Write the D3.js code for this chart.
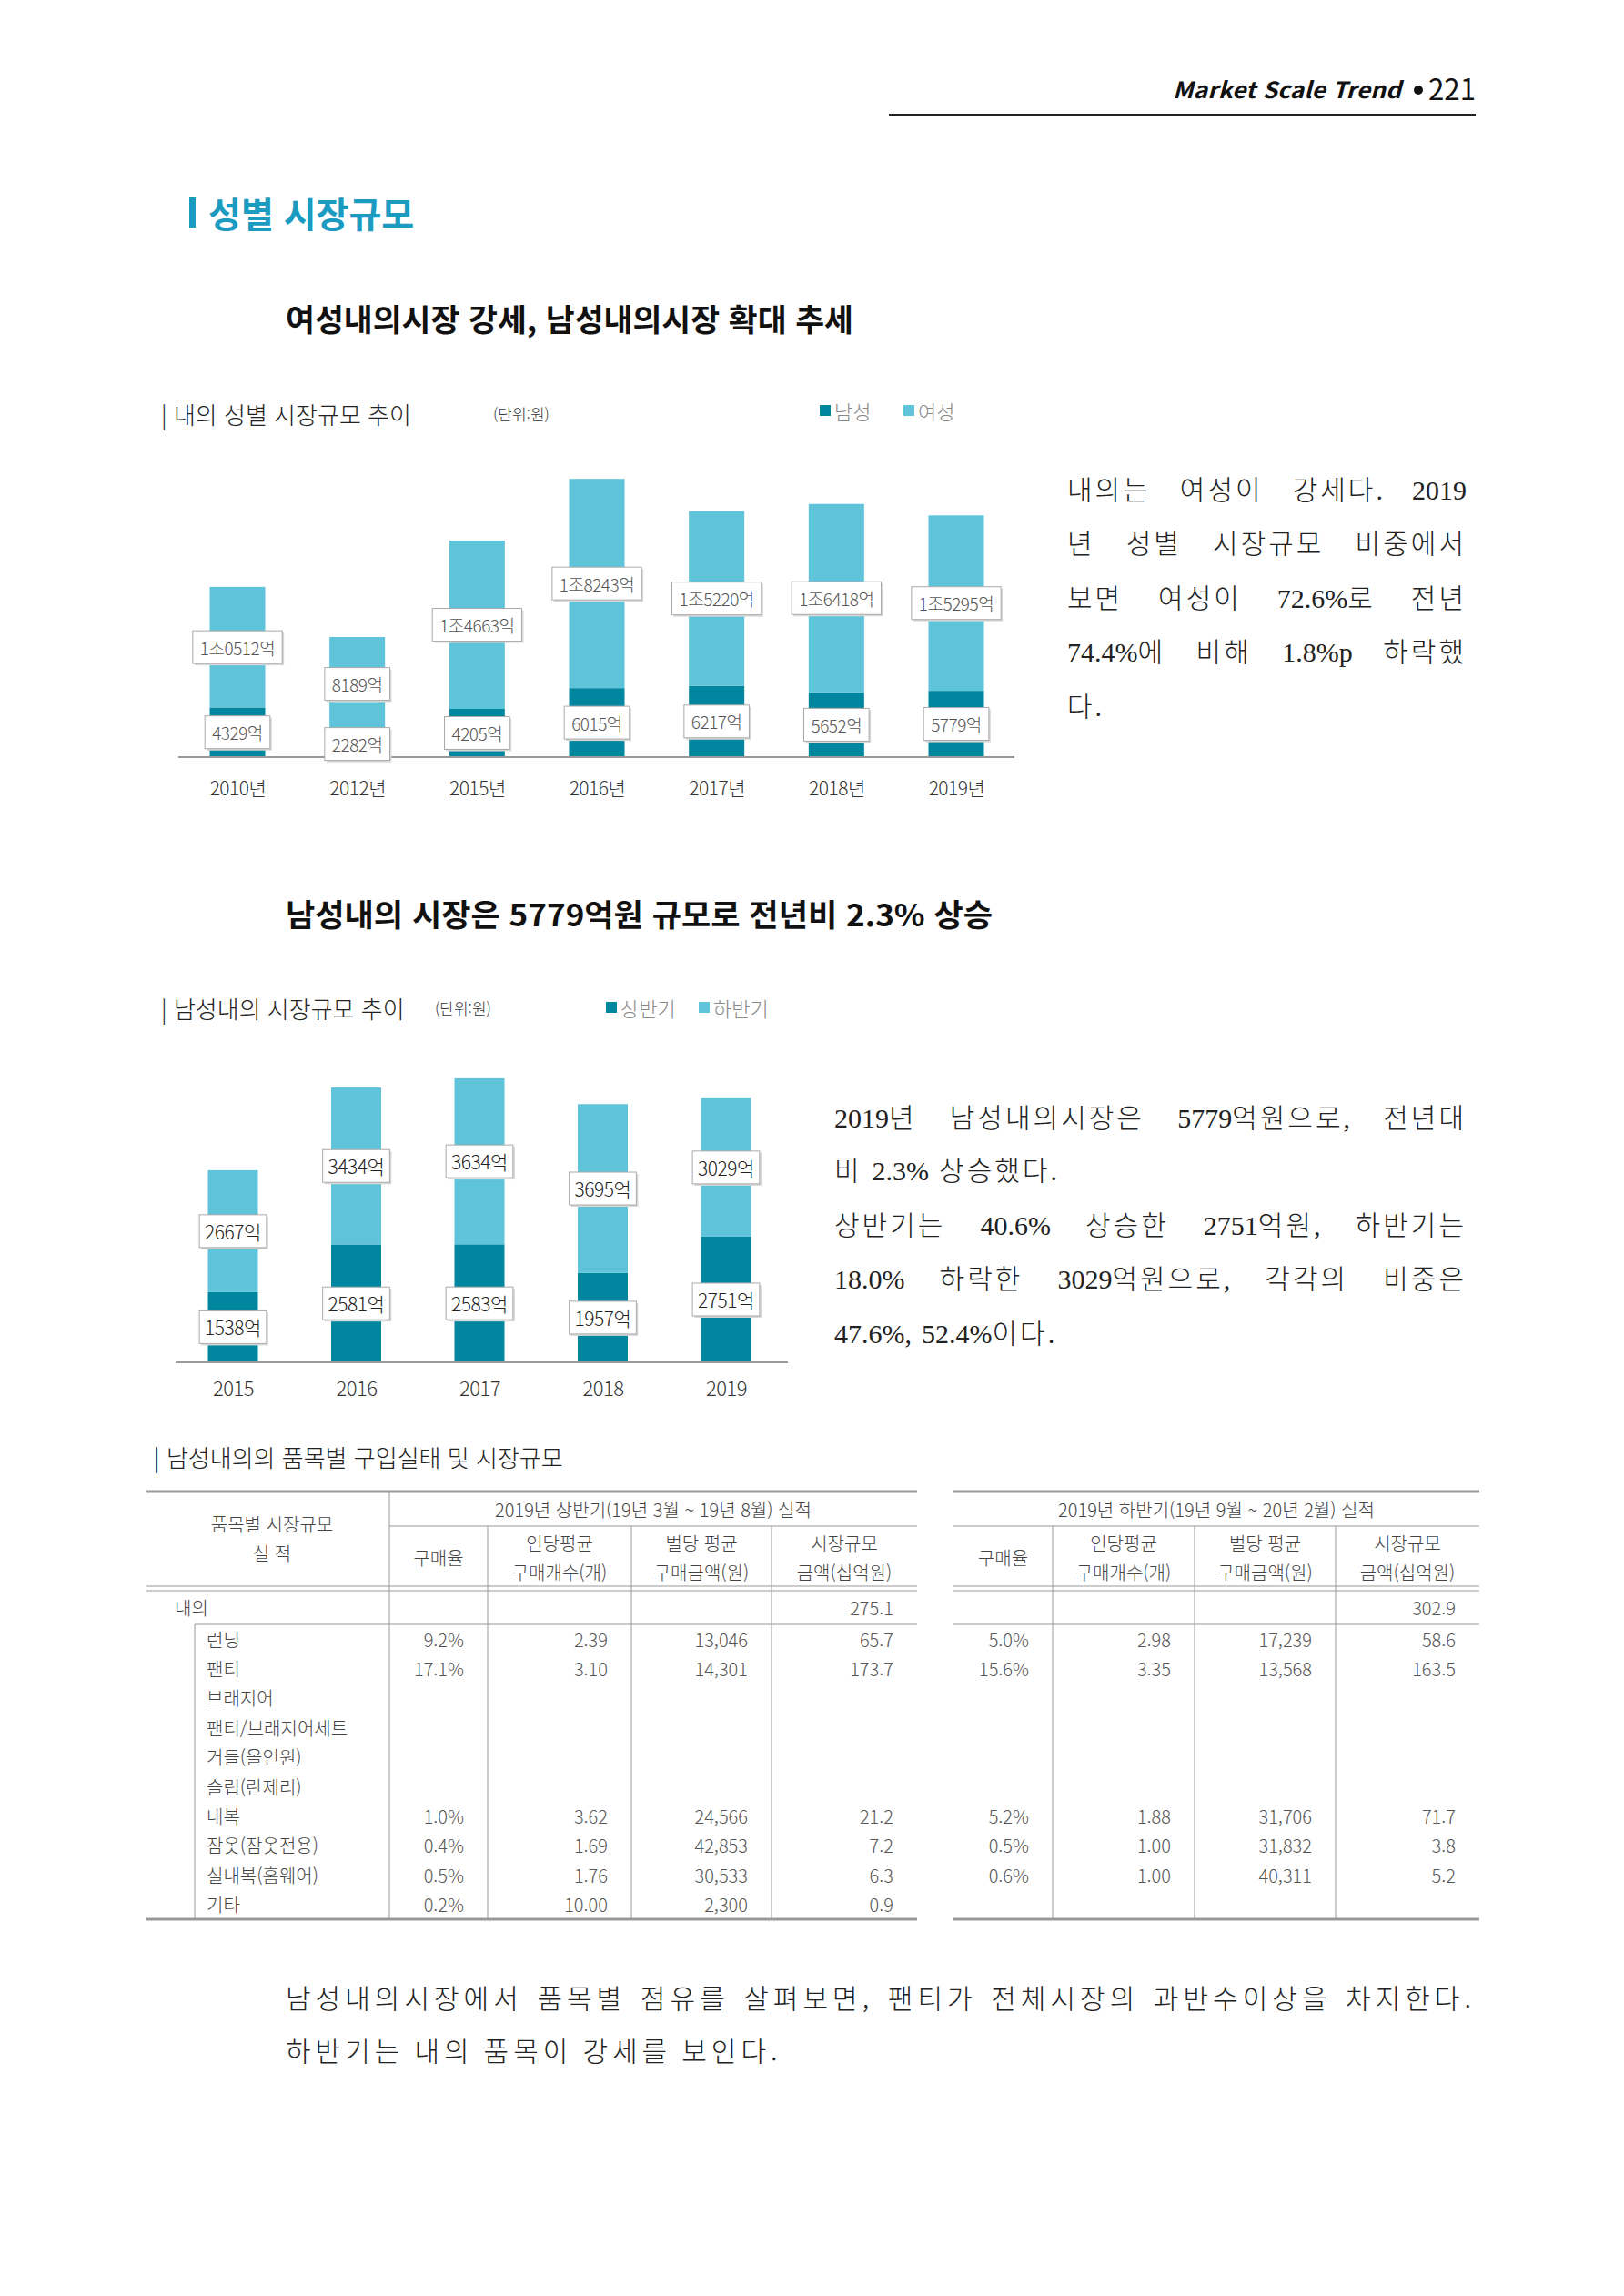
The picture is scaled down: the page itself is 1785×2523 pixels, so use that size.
<!DOCTYPE html>
<html lang="ko">
<head>
<meta charset="utf-8">
<title>성별 시장규모</title>
<script src="https://d3js.org/d3.v7.min.js"></script>
<style>
  body { margin: 0; background: #fff; }
  text { font-family: "Noto Sans CJK KR", "Noto Sans", sans-serif; }
  .para { font-family: "Liberation Serif", "Noto Sans CJK KR", serif; font-size: 30px; fill: #222; font-weight: 300; }
  .para2 { font-size: 30px; fill: #222; font-weight: 300; letter-spacing: 5px; }
  .tbl { font-size: 20px; fill: #444; font-weight: 300; }
  .val { font-size: 20px; fill: #555; font-weight: 300; }
</style>
</head>
<body>
<div id="page"></div>
<script>
// chart 1: 내의 성별 시장규모 (억원)
var years1 = ["2010년", "2012년", "2015년", "2016년", "2017년", "2018년", "2019년"];
var male1 = [4329, 2282, 4205, 6015, 6217, 5652, 5779];
var female1 = [10512, 8189, 14663, 18243, 15220, 16418, 15295];

// chart 2: 남성내의 시장규모 (억원)
var years2 = ["2015", "2016", "2017", "2018", "2019"];
var firstHalf = [1538, 2581, 2583, 1957, 2751];
var secondHalf = [2667, 3434, 3634, 3695, 3029];

// table
var items = ["런닝", "팬티", "브래지어", "팬티/브래지어세트", "거들(올인원)", "슬립(란제리)", "내복", "잠옷(잠옷전용)", "실내복(홈웨어)", "기타"];
var h1Rate = [9.2, 17.1, null, null, null, null, 1.0, 0.4, 0.5, 0.2];
var h1Qty = [2.39, 3.10, null, null, null, null, 3.62, 1.69, 1.76, 10.00];
var h1Price = [13046, 14301, null, null, null, null, 24566, 42853, 30533, 2300];
var h1Size = [65.7, 173.7, null, null, null, null, 21.2, 7.2, 6.3, 0.9];
var h2Rate = [5.0, 15.6, null, null, null, null, 5.2, 0.5, 0.6, null];
var h2Qty = [2.98, 3.35, null, null, null, null, 1.88, 1.00, 1.00, null];
var h2Price = [17239, 13568, null, null, null, null, 31706, 31832, 40311, null];
var h2Size = [58.6, 163.5, null, null, null, null, 71.7, 3.8, 5.2, null];
var totalSize = [275.1, 302.9];

var dark = "#00869f", light = "#5fc4da", blue = "#1c9bc1";

var svg = d3.select("#page").append("svg")
  .attr("width", 1785).attr("height", 2523);
svg.append("rect").attr("width", 1785).attr("height", 2523).attr("fill", "#fff");

// running header
svg.append("text").attr("x", 1289).attr("y", 108)
  .attr("font-family", "DejaVu Sans").attr("font-style", "italic").attr("font-weight", 700)
  .attr("font-size", 25).attr("fill", "#111")
  .attr("textLength", 251).attr("lengthAdjust", "spacingAndGlyphs")
  .text("Market Scale Trend");
svg.append("circle").attr("cx", 1559).attr("cy", 99).attr("r", 5).attr("fill", "#111");
svg.append("text").attr("x", 1570).attr("y", 110)
  .attr("font-family", "DejaVu Sans").attr("font-size", 32).attr("fill", "#111")
  .attr("textLength", 52).attr("lengthAdjust", "spacingAndGlyphs")
  .text("221");
svg.append("line").attr("x1", 977).attr("x2", 1622).attr("y1", 126).attr("y2", 126)
  .attr("stroke", "#222").attr("stroke-width", 2);

// section title
svg.append("rect").attr("x", 208).attr("y", 217).attr("width", 7).attr("height", 33).attr("fill", blue);
svg.append("text").attr("x", 229).attr("y", 233).attr("dominant-baseline", "central")
  .attr("font-size", 39).attr("font-weight", 600).attr("fill", blue).text("성별 시장규모");

function headline(txt, y, x0, x1) {
  svg.append("text").attr("x", x0).attr("y", y).attr("dominant-baseline", "central")
    .attr("font-size", 34).attr("font-weight", 700).attr("fill", "#111")
    .attr("textLength", x1 - x0).attr("lengthAdjust", "spacingAndGlyphs")
    .text(txt);
}
headline("여성내의시장 강세, 남성내의시장 확대 추세", 349, 314, 938);
headline("남성내의 시장은 5779억원 규모로 전년비 2.3% 상승", 1003, 314, 1091);

// Hangul runs get extra spacing, digits/latin stay tight
function fillWord(t, w, cls) {
  if (cls !== "para") { t.text(w); return; }
  var runs = w.match(/[\uac00-\ud7a3]+|[^\uac00-\ud7a3]+/g);
  runs.forEach(function (r) {
    var hangul = /[\uac00-\ud7a3]/.test(r);
    t.append("tspan").attr("letter-spacing", hangul ? 3 : 0).text(r);
  });
}
function lineOfWords(words, x0, x1, y, cls, justified) {
  var g = svg.append("g");
  var nodes = words.map(function (w) {
    var t = g.append("text").attr("class", cls).attr("y", y)
      .attr("dominant-baseline", "central");
    fillWord(t, w, cls);
    return t;
  });
  var widths = nodes.map(function (n) { return n.node().getComputedTextLength(); });
  var gap = (justified && words.length > 1) ? (x1 - x0 - d3.sum(widths)) / (words.length - 1) : 11;
  var x = x0;
  nodes.forEach(function (n, i) { n.attr("x", x); x += widths[i] + gap; });
}

// chart captions
function caption(txt, x, y) {
  svg.append("text").attr("x", x).attr("y", y).attr("dominant-baseline", "central")
    .attr("font-size", 26).attr("fill", "#222").attr("font-weight", 300).text(txt);
}
function unit(x, y) {
  svg.append("text").attr("x", x).attr("y", y).attr("dominant-baseline", "central")
    .attr("font-size", 17).attr("fill", "#333").attr("font-weight", 300).text("(단위:원)");
}
function legendItem(x, y, color, txt) {
  svg.append("rect").attr("x", x).attr("y", y - 6).attr("width", 12).attr("height", 12).attr("fill", color);
  svg.append("text").attr("x", x + 16).attr("y", y).attr("dominant-baseline", "central")
    .attr("font-size", 22).attr("fill", "#888").attr("font-weight", 300).text(txt);
}

function valueBox(g, cx, cy, label, size, color, pad) {
  var t = g.append("text").attr("x", cx).attr("y", cy).attr("text-anchor", "middle")
    .attr("dominant-baseline", "central").attr("font-size", size).attr("font-weight", 300)
    .attr("fill", color).attr("letter-spacing", -0.5).text(label);
  var w = t.node().getComputedTextLength() + pad * 2, h = 36;
  g.insert("rect", function () { return t.node(); })
    .attr("x", cx - w / 2 + 2).attr("y", cy - h / 2 + 2).attr("width", w).attr("height", h)
    .attr("fill", "#d8d8d8");
  g.insert("rect", function () { return t.node(); })
    .attr("x", cx - w / 2).attr("y", cy - h / 2).attr("width", w).attr("height", h)
    .attr("fill", "#fff").attr("stroke", "#aaa").attr("stroke-width", 1);
}

function fmtEok(v) {
  if (v >= 10000) return Math.floor(v / 10000) + "조" + d3.format("04d")(v % 10000) + "억";
  return v + "억";
}

// ---------- chart 1 ----------
caption("| 내의 성별 시장규모 추이", 177, 454);
unit(542, 454);
legendItem(901, 451, dark, "남성");
legendItem(993, 451, light, "여성");

var x1 = d3.scalePoint().domain(years1).range([261, 1051]);
var y1 = d3.scaleLinear().domain([0, 25000]).range([832, 832 - 315.2]);
var bw1 = 61;
var c1 = svg.append("g");
c1.selectAll(".m").data(years1).enter().append("rect")
  .attr("x", function (d) { return x1(d) - bw1 / 2; })
  .attr("y", function (d, i) { return y1(male1[i]); })
  .attr("width", bw1)
  .attr("height", function (d, i) { return y1(0) - y1(male1[i]); })
  .attr("fill", dark);
c1.selectAll(".f").data(years1).enter().append("rect")
  .attr("x", function (d) { return x1(d) - bw1 / 2; })
  .attr("y", function (d, i) { return y1(male1[i] + female1[i]); })
  .attr("width", bw1)
  .attr("height", function (d, i) { return y1(male1[i]) - y1(male1[i] + female1[i]); })
  .attr("fill", light);
var ax1 = svg.append("g").attr("transform", "translate(0,832)")
  .call(d3.axisBottom(x1).tickSize(0).tickPadding(27));
ax1.select(".domain").attr("d", "M196,0H1115").attr("stroke", "#999").attr("stroke-width", 2);
ax1.selectAll("text").attr("font-size", 21).attr("fill", "#333").attr("font-weight", 300)
  .attr("font-family", "Noto Sans CJK KR").attr("letter-spacing", -0.5);
years1.forEach(function (d, i) {
  var g = svg.append("g");
  valueBox(g, x1(d), (y1(0) + y1(male1[i])) / 2, fmtEok(male1[i]), 19, "#555", 8);
  var g2 = svg.append("g");
  valueBox(g2, x1(d), (y1(male1[i]) + y1(male1[i] + female1[i])) / 2, fmtEok(female1[i]), 19, "#555", 8);
});

// paragraph 1
var p1 = [
  ["내의는", "여성이", "강세다.", "2019"],
  ["년", "성별", "시장규모", "비중에서"],
  ["보면", "여성이", "72.6%로", "전년"],
  ["74.4%에", "비해", "1.8%p", "하락했"],
  ["다."]
];
var p1y = [538, 597, 657, 716, 776];
p1.forEach(function (w, i) { lineOfWords(w, 1173, 1612, p1y[i], "para", i < 4); });

// ---------- chart 2 ----------
caption("| 남성내의 시장규모 추이", 177, 1107);
unit(478, 1107);
legendItem(666, 1107, dark, "상반기");
legendItem(768, 1107, light, "하반기");

var x2 = d3.scalePoint().domain(years2).range([256, 798]);
var y2 = d3.scaleLinear().domain([0, 6500]).range([1497, 1497 - 326.3]);
var bw2 = 55;
var c2 = svg.append("g");
c2.selectAll(".a").data(years2).enter().append("rect")
  .attr("x", function (d) { return x2(d) - bw2 / 2; })
  .attr("y", function (d, i) { return y2(firstHalf[i]); })
  .attr("width", bw2)
  .attr("height", function (d, i) { return y2(0) - y2(firstHalf[i]); })
  .attr("fill", dark);
c2.selectAll(".b").data(years2).enter().append("rect")
  .attr("x", function (d) { return x2(d) - bw2 / 2; })
  .attr("y", function (d, i) { return y2(firstHalf[i] + secondHalf[i]); })
  .attr("width", bw2)
  .attr("height", function (d, i) { return y2(firstHalf[i]) - y2(firstHalf[i] + secondHalf[i]); })
  .attr("fill", light);
var ax2 = svg.append("g").attr("transform", "translate(0,1497)")
  .call(d3.axisBottom(x2).tickSize(0).tickPadding(21));
ax2.select(".domain").attr("d", "M193,0H866").attr("stroke", "#999").attr("stroke-width", 2);
ax2.selectAll("text").attr("font-size", 22).attr("fill", "#333").attr("font-weight", 300)
  .attr("font-family", "Noto Sans CJK KR").attr("letter-spacing", -0.5);
years2.forEach(function (d, i) {
  valueBox(svg.append("g"), x2(d), (y2(0) + y2(firstHalf[i])) / 2, fmtEok(firstHalf[i]), 21, "#222", 6);
  valueBox(svg.append("g"), x2(d), (y2(firstHalf[i]) + y2(firstHalf[i] + secondHalf[i])) / 2, fmtEok(secondHalf[i]), 21, "#222", 6);
});

// paragraph 2
var p2 = [
  [["2019년", "남성내의시장은", "5779억원으로,", "전년대"], true],
  [["비", "2.3%", "상승했다."], false],
  [["상반기는", "40.6%", "상승한", "2751억원,", "하반기는"], true],
  [["18.0%", "하락한", "3029억원으로,", "각각의", "비중은"], true],
  [["47.6%,", "52.4%이다."], false]
];
var p2y = [1228, 1286, 1346, 1405, 1465];
p2.forEach(function (l, i) { lineOfWords(l[0], 917, 1612, p2y[i], "para", l[1]); });

// ---------- table ----------
caption("| 남성내의의 품목별 구입실태 및 시장규모", 169, 1600);

var tb = svg.append("g");
function hline(xa, xb, y, w, c) {
  tb.append("line").attr("x1", xa).attr("x2", xb).attr("y1", y).attr("y2", y)
    .attr("stroke", c || "#999").attr("stroke-width", w || 1);
}
function vline(x, ya, yb) {
  tb.append("line").attr("x1", x).attr("x2", x).attr("y1", ya).attr("y2", yb)
    .attr("stroke", "#999").attr("stroke-width", 1);
}
function ttext(txt, x, y, anchor, cls) {
  tb.append("text").attr("class", cls || "tbl").attr("x", x).attr("y", y)
    .attr("text-anchor", anchor || "middle").attr("dominant-baseline", "central").text(txt);
}

var tables = [
  { x0: 161, x1: 1008, cols: [428, 536, 694, 848, 1008], title: "2019년 상반기(19년 3월 ~ 19년 8월) 실적",
    data: [h1Rate, h1Qty, h1Price, h1Size], total: totalSize[0] },
  { x0: 1048, x1: 1626, cols: [1048, 1157, 1313, 1468, 1626], title: "2019년 하반기(19년 9월 ~ 20년 2월) 실적",
    data: [h2Rate, h2Qty, h2Price, h2Size], total: totalSize[1] }
];
var fmts = [
  function (v) { return d3.format(".1f")(v) + "%"; },
  d3.format(".2f"),
  d3.format(","),
  d3.format(".1f")
];
var rowY = d3.range(items.length).map(function (i) { return 1801 + i * 32.4; });
var subHeads = [["구매율"], ["인당평균", "구매개수(개)"], ["벌당 평균", "구매금액(원)"], ["시장규모", "금액(십억원)"]];

tables.forEach(function (t, ti) {
  hline(t.x0, t.x1, 1639, 3, "#999");
  hline(t.cols[0], t.x1, 1677, 1);
  hline(t.x0, t.x1, 1743, 1);
  hline(t.x0, t.x1, 1748, 1);
  hline(ti === 0 ? 214 : t.x0, t.x1, 1785, 1);
  hline(t.x0, t.x1, 2109, 3, "#999");
  if (ti === 0) {
    vline(428, 1639, 2109);
    vline(214, 1785, 2109);
  }
  for (var c = 1; c < 4; c++) vline(t.cols[c], 1677, 2109);
  ttext(t.title, (t.cols[0] + t.x1) / 2, 1658);
  subHeads.forEach(function (h, k) {
    var cx = (t.cols[k] + t.cols[k + 1]) / 2;
    if (h.length === 1) ttext(h[0], cx, 1711);
    else { ttext(h[0], cx, 1695); ttext(h[1], cx, 1727); }
  });
  ttext(d3.format(".1f")(t.total), t.cols[4] - 26, 1766, "end", "val");
  t.data.forEach(function (arr, k) {
    arr.forEach(function (v, r) {
      if (v === null) return;
      ttext(fmts[k](v), t.cols[k + 1] - 26, rowY[r], "end", "val");
    });
  });
});
ttext("품목별 시장규모", 299, 1674);
ttext("실 적", 299, 1706);
ttext("내의", 192, 1766, "start");
items.forEach(function (name, r) { ttext(name, 227, rowY[r], "start"); });

// closing paragraph
lineOfWords(["남성내의시장에서", "품목별", "점유를", "살펴보면,", "팬티가", "전체시장의", "과반수이상을", "차지한다."],
  314, 1622, 2194, "para2", true);
lineOfWords(["하반기는", "내의", "품목이", "강세를", "보인다."], 314, 1622, 2252, "para2", false);
</script>
</body>
</html>
